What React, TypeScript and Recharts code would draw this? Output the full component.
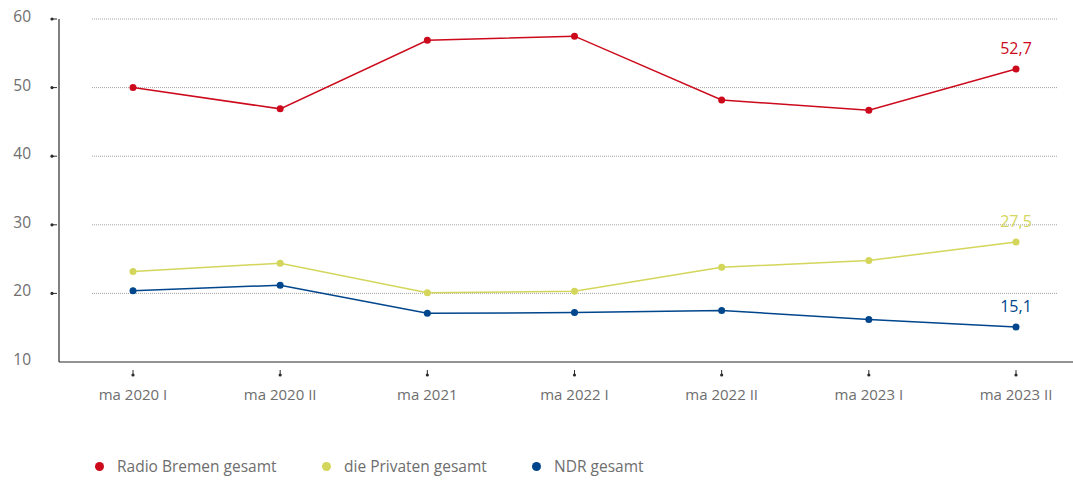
import { LineChart, Line, XAxis, YAxis, CartesianGrid, LabelList } from 'recharts';

const categories = ['ma 2020 I', 'ma 2020 II', 'ma 2021', 'ma 2022 I', 'ma 2022 II', 'ma 2023 I', 'ma 2023 II'];
const radioBremen = [50.0, 46.9, 56.9, 57.5, 48.2, 46.7, 52.7];
const privaten = [23.2, 24.4, 20.1, 20.3, 23.8, 24.8, 27.5];
const ndr = [20.4, 21.2, 17.1, 17.2, 17.5, 16.2, 15.1];
const yTicks = [10, 20, 30, 40, 50, 60];

const series = [
    { key: 'rb', name: 'Radio Bremen gesamt', color: '#cc0a1c', values: radioBremen, legendX: 95 },
    { key: 'priv', name: 'die Privaten gesamt', color: '#d3d65a', values: privaten, legendX: 322 },
    { key: 'ndr', name: 'NDR gesamt', color: '#00468c', values: ndr, legendX: 532 },
];

const chartData = categories.map((cat, i) => {
    const row: Record<string, string | number> = { cat };
    series.forEach(s => { row[s.key] = s.values[i]; });
    return row;
});

const FONT = '"Open Sans", sans-serif';
const TEXT = '#6e6e6e';
const AXIS = '#2b2b2b';

const YTick = (props: any) => {
    const { x, y, payload } = props;
    return (
        <g>
            {payload.value !== 10 && (
                <>
                    <line x1={x - 5} x2={x} y1={y} y2={y} stroke={AXIS} strokeWidth={1} />
                    <circle cx={x - 5} cy={y} r={1.6} fill={AXIS} />
                </>
            )}
            <text x={x - 26} y={y} dy={3} textAnchor="end" fill={TEXT} fontSize={15.5} fontFamily={FONT}>
                {payload.value}
            </text>
        </g>
    );
};

const XTick = (props: any) => {
    const { x, y, payload } = props;
    return (
        <g>
            <line x1={x} x2={x} y1={y} y2={y + 5} stroke={AXIS} strokeWidth={1} />
            <circle cx={x} cy={y + 5} r={1.6} fill={AXIS} />
            <text x={x} y={y + 30} textAnchor="middle" fill={TEXT} fontSize={15} fontFamily={FONT}>
                {payload.value}
            </text>
        </g>
    );
};

const GridLine = (props: any) => {
    const { x1, x2, y1, y2 } = props;
    if (Math.abs(y1 - 362) < 2) return <g />;
    return <line x1={x1 + 33} x2={x2 - 15} y1={y1} y2={y2} stroke="#8a8a8a" strokeWidth={0.8} strokeDasharray="1 1" />;
};

const lastLabel = (color: string) => (props: any) => {
    const { x, y, value, index } = props;
    if (index !== categories.length - 1) return null;
    return (
        <text x={x} y={y - 15} textAnchor="middle" fill={color} fontSize={16} fontFamily={FONT}>
            {String(value).replace('.', ',')}
        </text>
    );
};

export default function App() {
    return (
        <div style={{ position: 'absolute', left: 0, top: 0, width: 1073, height: 480, overflow: 'hidden', background: '#fff' }}>
            <LineChart width={1073} height={480} data={chartData} margin={{ top: 19, right: 0, bottom: 78, left: 0 }}>
                <CartesianGrid vertical={false} horizontal={<GridLine />} />
                <XAxis
                    dataKey="cat"
                    height={40}
                    padding={{ left: 74, right: 57 }}
                    axisLine={{ stroke: AXIS, strokeWidth: 1.2 }}
                    tickLine={false}
                    tick={<XTick />}
                    interval={0}
                />
                <YAxis
                    width={59}
                    domain={[10, 60]}
                    ticks={yTicks}
                    axisLine={{ stroke: AXIS, strokeWidth: 1.2 }}
                    tickLine={false}
                    tickSize={0}
                    tick={<YTick />}
                />
                {series.map(s => (
                    <Line
                        key={s.key}
                        dataKey={s.key}
                        name={s.name}
                        type="linear"
                        stroke={s.color}
                        strokeWidth={1.5}
                        dot={{ r: 3.5, fill: s.color, stroke: s.color, strokeWidth: 0 }}
                        activeDot={false}
                        isAnimationActive={false}
                    >
                        <LabelList dataKey={s.key} content={lastLabel(s.color)} />
                    </Line>
                ))}
            </LineChart>
            {series.map(s => (
                <div key={s.key} style={{ position: 'absolute', left: s.legendX, top: 456, lineHeight: '20px', display: 'flex', alignItems: 'center', fontFamily: FONT, fontSize: 15.5, color: TEXT, whiteSpace: 'nowrap' }}>
                    <span style={{ width: 9, height: 9, borderRadius: '50%', background: s.color, display: 'inline-block', marginRight: 13 }} />
                    <span>{s.name}</span>
                </div>
            ))}
        </div>
    );
}
